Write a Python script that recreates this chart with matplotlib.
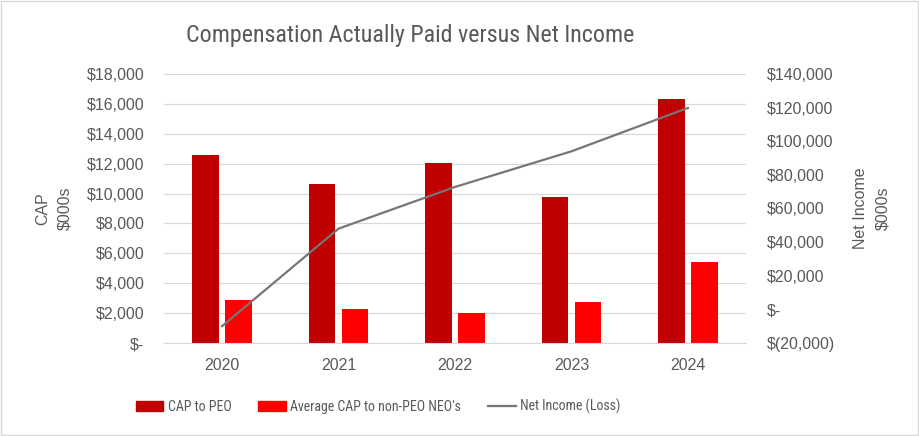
import numpy as np
import matplotlib.pyplot as plt
from matplotlib.ticker import FuncFormatter, MultipleLocator
from matplotlib.patches import Rectangle
from matplotlib.lines import Line2D

# Data ($000s)
years = ["2020", "2021", "2022", "2023", "2024"]
cap_peo = [12600, 10650, 12050, 9800, 16350]
cap_neo = [2880, 2250, 2000, 2720, 5400]
net_income = [-10000, 48000, 72800, 94000, 119800]

dark_red = "#C00000"
bright_red = "#FF0000"
line_gray = "#767676"
text_gray = "#595959"
narrow = ['Liberation Sans Narrow', 'Roboto Condensed', 'Open Sans Condensed', 'Liberation Sans']

plt.rcParams['font.family'] = ['Liberation Sans', 'DejaVu Sans']

fig = plt.figure(figsize=(9.2, 4.36), dpi=100)
ax = fig.add_axes([0.178, 0.2133, 0.633, 0.617])
ax2 = ax.twinx()

x = np.arange(len(years))
w = 0.227
ax.bar(x - 0.142, cap_peo, width=w, color=dark_red, label="CAP to PEO", zorder=2)
ax.bar(x + 0.142, cap_neo, width=w, color=bright_red, label="Average CAP to non-PEO NEO's", zorder=2)
ax2.plot(x, net_income, color=line_gray, lw=1.6, label="Net Income (Loss)")

ax.set_xlim(-0.5, len(years) - 0.5)
ax.set_ylim(0, 18000)
ax2.set_ylim(-20000, 140000)
ax.yaxis.set_major_locator(MultipleLocator(2000))
ax2.yaxis.set_major_locator(MultipleLocator(20000))

def left_fmt(v, pos):
    if v == 0:
        return "$-"
    return "${:,.0f}".format(v)

def right_fmt(v, pos):
    if v == 0:
        return "$-"
    if v < 0:
        return "$({:,.0f})".format(-v)
    return "${:,.0f}".format(v)

ax.yaxis.set_major_formatter(FuncFormatter(left_fmt))
ax2.yaxis.set_major_formatter(FuncFormatter(right_fmt))
ax.set_xticks(x)
ax.set_xticklabels(years)

ax.grid(axis="y", color="#d9d9d9", lw=0.9, zorder=0)
ax.set_axisbelow(True)
for a in (ax, ax2):
    for s in a.spines.values():
        s.set_visible(False)
ax.spines["bottom"].set_visible(True)
ax.spines["bottom"].set_color("#d9d9d9")
ax.tick_params(axis="y", length=0, pad=14, labelsize=11.5, labelcolor=text_gray)
ax.tick_params(axis="x", length=0, pad=11, labelsize=11.5, labelcolor=text_gray)
ax2.tick_params(axis="y", length=0, pad=15, labelsize=11.5, labelcolor=text_gray)

ax.set_ylabel("CAP\n$000s", fontsize=11.5, color=text_gray, labelpad=10, linespacing=1.6)
ax2.set_ylabel("Net Income\n$000s", fontsize=11.5, color=text_gray, labelpad=13, linespacing=1.6)

fig.text(0.446, 0.918, "Compensation Actually Paid versus Net Income", ha="center", va="center",
         fontsize=17.3, color=text_gray, family=narrow)

handles = [Rectangle((0, 0), 1, 1, color=dark_red),
           Rectangle((0, 0), 1, 1, color=bright_red),
           Line2D([], [], color=line_gray, lw=1.6)]
labels = ["CAP to PEO", "Average CAP to non-PEO NEO's", "Net Income (Loss)"]
leg = fig.legend(handles, labels, loc="center", bbox_to_anchor=(0.411, 0.067), ncol=3,
                 frameon=False, prop={'family': narrow, 'size': 10},
                 handlelength=2.0, handleheight=0.7,
                 handletextpad=0.3, columnspacing=1.95)
for t in leg.get_texts():
    t.set_color(text_gray)

fig.patches.append(Rectangle((0.001, 0.002), 0.997, 0.995, transform=fig.transFigure,
                             fill=False, edgecolor="#d9d9d9", lw=1))

fig.savefig("out.png", dpi=100)
